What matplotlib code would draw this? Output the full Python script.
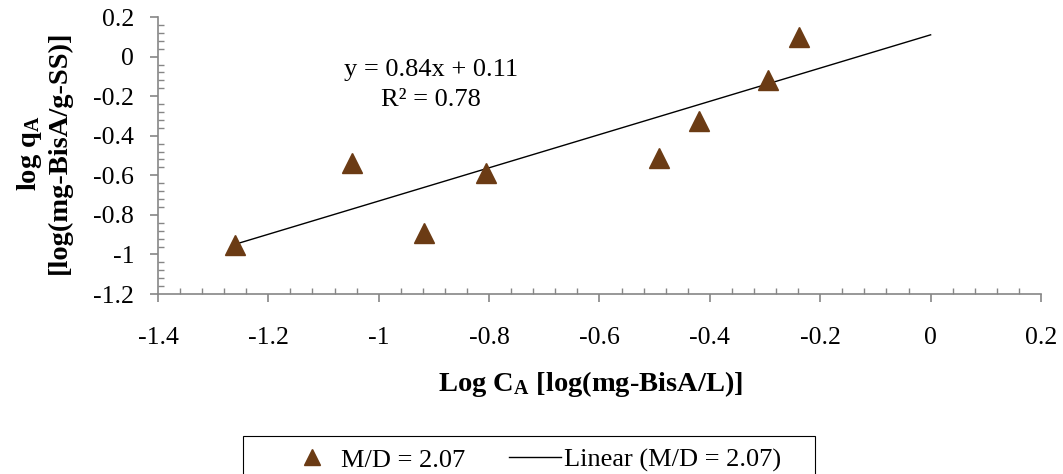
import numpy as np
import matplotlib
matplotlib.use("Agg")
import matplotlib.pyplot as plt
from matplotlib.patches import Rectangle
from matplotlib.ticker import MultipleLocator, FuncFormatter

plt.rcParams["font.family"] = ["Liberation Serif", "DejaVu Serif"]
plt.rcParams["mathtext.fontset"] = "custom"
plt.rcParams["mathtext.rm"] = "Liberation Serif"
plt.rcParams["mathtext.bf"] = "Liberation Serif:bold"
plt.rcParams["mathtext.it"] = "Liberation Serif:italic"
plt.rcParams["axes.unicode_minus"] = False

# data
log_c = [-1.26, -1.048, -0.918, -0.806, -0.493, -0.420, -0.295, -0.239]
log_q = [-0.952, -0.538, -0.893, -0.590, -0.514, -0.324, -0.118, 0.100]
slope = 0.84
intercept = 0.11
fit_end = 0.0
series_label = "M/D = 2.07"
fit_label = "Linear (M/D = 2.07)"

brown = "#6B3B14"
axis_gray = "#868686"

fig = plt.figure(figsize=(10.63, 4.74), dpi=100)
ax = fig.add_axes([0.1486, 0.3797, 0.8307, 0.5844])

pts, = ax.plot(log_c, log_q, linestyle="none", marker="^", markersize=14,
               color=brown, markeredgecolor=brown, label=series_label, zorder=3)
fit_x = np.array([min(log_c), fit_end])
fit, = ax.plot(fit_x, slope * fit_x + intercept, color="black", lw=1.0,
               label=fit_label, zorder=2)

ax.set_xlim(-1.4, 0.2)
ax.set_ylim(-1.2, 0.2)
ax.xaxis.set_major_locator(MultipleLocator(0.2))
ax.xaxis.set_minor_locator(MultipleLocator(0.04))
ax.yaxis.set_major_locator(MultipleLocator(0.2))
ax.yaxis.set_minor_locator(MultipleLocator(0.04))
fmt = FuncFormatter(lambda v, p: f"{round(v, 2) + 0:g}")
ax.xaxis.set_major_formatter(fmt)
ax.yaxis.set_major_formatter(fmt)

for s in ["top", "right"]:
    ax.spines[s].set_visible(False)
for s in ["left", "bottom"]:
    ax.spines[s].set_color(axis_gray)
    ax.spines[s].set_linewidth(1.2)

ax.tick_params(which="major", direction="out", length=6, width=1.2, color=axis_gray,
               labelsize=18.5)
ax.tick_params(which="minor", direction="in", length=4, width=1.0, color=axis_gray)
ax.tick_params(axis="x", which="major", pad=18)
ax.tick_params(axis="y", which="major", pad=11)

ax.set_xlabel(r"Log C$_\mathbf{A}$ [log(mg-BisA/L)]", fontsize=20.5, fontweight="bold")
ax.xaxis.set_label_coords(0.49, -0.27)
ax.set_ylabel("log q$_\\mathbf{A}$\n[log(mg-BisA/g-SS)]", fontsize=20.5,
              fontweight="bold", multialignment="center", linespacing=1.15)
ax.yaxis.set_label_coords(-0.097, 0.51)

ax.text(-0.906, -0.144, "y = 0.84x + 0.11\nR² = 0.78", fontsize=19,
        ha="center", va="center", multialignment="center", linespacing=1.45)

# legend box (runs past the bottom edge like the reference)
fig.add_artist(Rectangle((0.2286, -0.05), 0.538, 0.1302, transform=fig.transFigure,
                         facecolor="white", edgecolor="black", lw=0.8))
leg = fig.legend(handles=[pts, fit], loc="center", bbox_to_anchor=(0.5019, 0.0295),
                 ncol=2, fontsize=19, frameon=False, handlelength=1.97,
                 handletextpad=0.1, columnspacing=1.67, borderpad=0,
                 borderaxespad=0, markerscale=0.85)

fig.savefig("out.png", dpi=100)
